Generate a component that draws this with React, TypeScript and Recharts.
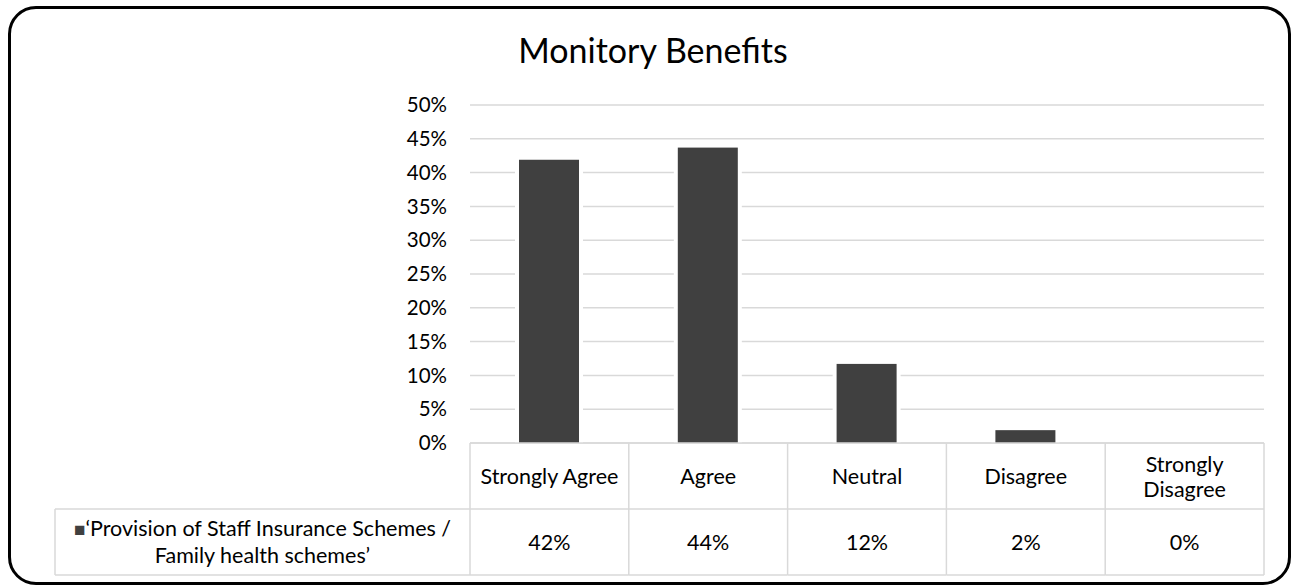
import React from "react";
import { BarChart, Bar, XAxis, YAxis, CartesianGrid } from "recharts";

const categories = ["Strongly Agree", "Agree", "Neutral", "Disagree", "Strongly Disagree"];
// bar heights; the data table shows them rounded
const shares = [0.419, 0.437, 0.117, 0.019, 0];
const yTicks = [0, 0.05, 0.1, 0.15, 0.2, 0.25, 0.3, 0.35, 0.4, 0.45, 0.5];
const seriesName = "\u2018Provision of Staff Insurance Schemes / Family health schemes\u2019";
const seriesNameLines = ["\u2018Provision of Staff Insurance Schemes /", "Family health schemes\u2019"];

const data = categories.map((name, i) => ({ name, value: shares[i] }));

const W = 1293;
const H = 586;
const margin = { top: 105, right: 29, bottom: 10, left: 0 };
const yAxisWidth = 470;
const plotWidth = W - margin.left - margin.right - yAxisWidth;
const band = plotWidth / categories.length;
const rowH = 66;
const legendLeft = 55;

const FONT = "Lato, 'Noto Sans', sans-serif";
const GRID = "#d9d9d9";
const BAR = "#404040";

const pct = (v: number) => `${Math.round(v * 100)}%`;

function wrapLabel(s: string) {
  if (s.length <= 14) return [s];
  const i = s.indexOf(" ");
  return [s.slice(0, i), s.slice(i + 1)];
}

function OutlinedBar(props: any) {
  const { x, y, width, height } = props;
  if (!height || height <= 0) return null;
  return (
    <g>
      <rect x={x - 4} y={y - 4} width={width + 8} height={height + 4} fill="#fff" />
      <rect x={x} y={y} width={width} height={height} fill={BAR} />
    </g>
  );
}

function TableTick(props: any) {
  const { x, y, index, payload } = props;
  const left = x - band / 2;
  const right = x + band / 2;
  const lines = wrapLabel(String(payload.value));
  const lineH = 25;
  const row1Mid = y + rowH / 2;
  const row2Top = y + rowH;
  const row2Mid = row2Top + rowH / 2;
  const bottom = y + rowH * 2;
  const isLast = index === categories.length - 1;
  return (
    <g fontFamily={FONT} fontSize={21.5} fill="#000">
      <line x1={left} y1={y} x2={left} y2={bottom} stroke={GRID} strokeWidth={1.5} />
      {isLast && <line x1={right} y1={y} x2={right} y2={bottom} stroke={GRID} strokeWidth={1.5} />}
      <line x1={left} y1={row2Top} x2={right} y2={row2Top} stroke={GRID} strokeWidth={1.5} />
      <line x1={left} y1={bottom} x2={right} y2={bottom} stroke={GRID} strokeWidth={1.5} />
      {lines.map((l, i) => (
        <text
          key={i}
          x={x}
          y={row1Mid + (i - (lines.length - 1) / 2) * lineH}
          textAnchor="middle"
          dominantBaseline="central"
        >
          {l}
        </text>
      ))}
      <text x={x} y={row2Mid} textAnchor="middle" dominantBaseline="central">
        {pct(shares[index])}
      </text>
      {index === 0 && (
        <g>
          <line x1={legendLeft} y1={row2Top} x2={left} y2={row2Top} stroke={GRID} strokeWidth={1.5} />
          <line x1={legendLeft} y1={bottom} x2={left} y2={bottom} stroke={GRID} strokeWidth={1.5} />
          <line x1={legendLeft} y1={row2Top} x2={legendLeft} y2={bottom} stroke={GRID} strokeWidth={1.5} />
          <text x={(legendLeft + left) / 2} y={row2Mid - 14} textAnchor="middle" dominantBaseline="central">
            <tspan fill={BAR} fontSize={19}>{"\u25A0"}</tspan>
            <tspan>{seriesNameLines[0]}</tspan>
          </text>
          <text x={(legendLeft + left) / 2} y={row2Mid + 13} textAnchor="middle" dominantBaseline="central">
            {seriesNameLines[1]}
          </text>
        </g>
      )}
    </g>
  );
}

export default function App() {
  return (
    <div style={{ position: "absolute", left: 0, top: 0, width: W, height: H, background: "#fff", fontFamily: FONT }}>
      <div
        style={{
          position: "absolute",
          left: 8,
          top: 6,
          width: 1283,
          height: 579,
          boxSizing: "border-box",
          border: "3.5px solid #000",
          borderRadius: 28,
        }}
      />
      <div
        style={{
          position: "absolute",
          left: 0,
          top: 28,
          width: 1306,
          textAlign: "center",
          fontSize: 34,
          color: "#000",
          lineHeight: "44px",
        }}
      >
        Monitory Benefits
      </div>
      <BarChart width={W} height={H} data={data} margin={margin} style={{ position: "absolute", left: 0, top: 0 }}>
        <CartesianGrid vertical={false} stroke={GRID} strokeWidth={1.5} />
        <XAxis
          dataKey="name"
          height={H - margin.bottom - 443}
          axisLine={{ stroke: GRID, strokeWidth: 1.5 }}
          tickLine={false}
          tickSize={0}
          tickMargin={0}
          interval={0}
          tick={(p: any) => <TableTick {...p} />}
        />
        <YAxis
          width={yAxisWidth}
          domain={[0, 0.5]}
          ticks={yTicks}
          tickFormatter={pct}
          axisLine={false}
          tickLine={false}
          tickSize={0}
          tickMargin={23}
          tick={{ fill: "#000", fontSize: 20.5, fontFamily: FONT }}
        />
        <Bar dataKey="value" name={seriesName} barSize={60} shape={<OutlinedBar />} isAnimationActive={false} />
      </BarChart>
    </div>
  );
}
